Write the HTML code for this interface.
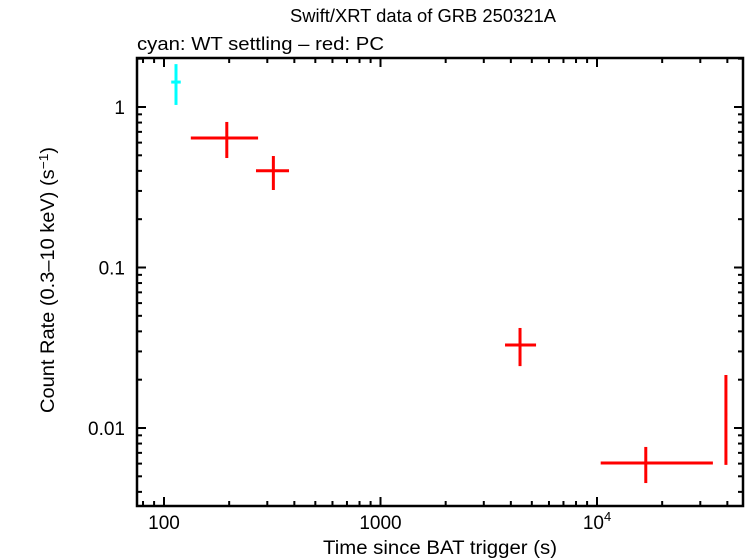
<!DOCTYPE html>
<html><head><meta charset="utf-8"><style>
body{margin:0;background:#fff}
svg{display:block;font-family:"Liberation Sans",Arial,sans-serif}
</style></head><body>
<svg id="chart" width="746" height="558" viewBox="0 0 746 558" xmlns="http://www.w3.org/2000/svg">
<rect width="746" height="558" fill="#fff"/>
<text x="290" y="22" font-size="18" textLength="266" lengthAdjust="spacingAndGlyphs">Swift/XRT data of GRB 250321A</text>
<text x="137" y="50" font-size="18.5" textLength="247" lengthAdjust="spacingAndGlyphs">cyan: WT settling – red: PC</text>
<g id="axes"></g>
<g id="marks"></g>
<text x="323" y="554" font-size="19" textLength="234" lengthAdjust="spacingAndGlyphs">Time since BAT trigger (s)</text>
<text transform="translate(54,413) rotate(-90)" font-size="19" textLength="266" lengthAdjust="spacingAndGlyphs">Count Rate (0.3–10 keV) (s<tspan dy="-6" font-size="13">−1</tspan><tspan dy="6">)</tspan></text>
</svg>
<script>
const wtTime=[113.6], wtTimeLo=[108], wtTimeHi=[119.5];
const wtRate=[1.43], wtRateLo=[1.03], wtRateHi=[1.85];
const pcTime=[195,320,4410,16800,39400];
const pcTimeLo=[133,266,3760,10400,39000];
const pcTimeHi=[272,378,5230,34300,39900];
const pcRate=[0.641,0.401,0.0329,0.00605,0.0122];
const pcRateLo=[0.481,0.304,0.0243,0.00454,0.00589];
const pcRateHi=[0.807,0.495,0.042,0.00762,0.0214];
const xTickVals=[100,1000,10000];
const xTickLabels=["100","1000","10^4"];
const yTickVals=[1,0.1,0.01];
const yTickLabels=["1","0.1","0.01"];

const L=137,R=743,T=58,B=506;
const X=v=>164+(Math.log10(v)-2)*216.5;
const Y=v=>107-Math.log10(v)*160.5;
const NS="http://www.w3.org/2000/svg";
const axes=document.getElementById('axes'), marks=document.getElementById('marks');
function mk(tag,attrs,parent){const e=document.createElementNS(NS,tag);for(const k in attrs)e.setAttribute(k,attrs[k]);parent.appendChild(e);return e;}

const frame=mk('rect',{x:L,y:T,width:R-L,height:B-T,fill:'none',stroke:'#000','stroke-width':2.5},axes);



for(let d=1;d<=4;d++){for(let m=1;m<10;m++){const v=m*Math.pow(10,d);const x=X(v);if(x<L||x>R)continue;const len=m===1?9:5;
 const t1=mk('line',{x1:x,x2:x,y1:B,y2:B-len,stroke:'#000','stroke-width':2},axes);
 
 
 const t2=mk('line',{x1:x,x2:x,y1:T,y2:T+len,stroke:'#000','stroke-width':2},axes);
 
 }}
for(let d=-3;d<=1;d++){for(let m=1;m<10;m++){const v=m*Math.pow(10,d);const y=Y(v);if(y<T||y>B)continue;const len=m===1?9:5;
 const t1=mk('line',{x1:L,x2:L+len,y1:y,y2:y,stroke:'#000','stroke-width':2},axes);
 
 
 const t2=mk('line',{x1:R,x2:R-len,y1:y,y2:y,stroke:'#000','stroke-width':2},axes);
 
 }}
xTickVals.forEach((v,i)=>{const t=mk('text',{x:X(v),y:529,'font-size':19,'text-anchor':'middle'},axes);
 
 
 const lab=xTickLabels[i];
 if(lab.indexOf('^')>0){const p=lab.split('^');t.textContent=p[0];const s=mk('tspan',{dy:-8,'font-size':13},t);s.textContent=p[1];}
 else t.textContent=lab;});
yTickVals.forEach((v,i)=>{const t=mk('text',{x:125,y:Y(v)+7,'font-size':19,'text-anchor':'end'},axes);
 
 
 t.textContent=yTickLabels[i];});

function point(t,tl,th,r,rl,rh,color,name){
 const g=mk('g',{stroke:color,'stroke-width':3},marks);
 
 
 mk('line',{x1:X(tl),x2:X(th),y1:Y(r),y2:Y(r)},g);
 mk('line',{x1:X(t),x2:X(t),y1:Y(rh),y2:Y(rl)},g);
}
wtTime.forEach((t,i)=>point(t,wtTimeLo[i],wtTimeHi[i],wtRate[i],wtRateLo[i],wtRateHi[i],'#00ffff','wt-point'));
pcTime.forEach((t,i)=>point(t,pcTimeLo[i],pcTimeHi[i],pcRate[i],pcRateLo[i],pcRateHi[i],'#ff0000','pc-point'));
</script>
</body></html>
